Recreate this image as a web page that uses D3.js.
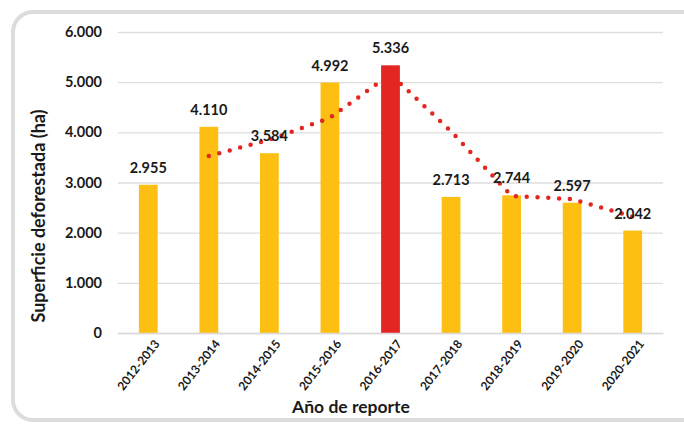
<!DOCTYPE html>
<html>
<head>
<meta charset="utf-8">
<script src="https://cdn.jsdelivr.net/npm/d3@7"></script>
<style>
  body { margin: 0; background: #fff; }
  text { font-family: Lato, "Open Sans", sans-serif; font-weight: 700; fill: #1a1a1a; }
</style>
</head>
<body>
<svg width="684" height="425"></svg>
<script>
// datos
const periodos = ["2012-2013", "2013-2014", "2014-2015", "2015-2016", "2016-2017", "2017-2018", "2018-2019", "2019-2020", "2020-2021"]
const superficie = [2955, 4110, 3584, 4992, 5336, 2713, 2744, 2597, 2042]
// tendencia punteada (empieza en 2013-2014)
const tendPeriodos = periodos.slice(1)
const tendencia = [3530, 3850, 4290, 5160, 4020, 2730, 2670, 2320]
const yTicks = [0, 1000, 2000, 3000, 4000, 5000, 6000]
const destacado = "2016-2017"

const svg = d3.select("svg")
const mLeft = 118, mRight = 663, mTop = 32, mBottom = 333

const loc = d3.formatLocale({ decimal: ",", thousands: ".", grouping: [3], currency: ["$", ""] })
const fmt = loc.format(",d")

// marco redondeado
svg.append("rect")
  .attr("x", 13).attr("y", 12).attr("width", 700).attr("height", 408)
  .attr("rx", 20)
  .style("fill", "none").style("stroke", "#dcdcdc").style("stroke-width", 4)

const x = d3.scaleBand().domain(periodos).range([mLeft, mRight]).paddingInner(0.69).paddingOuter(0.345)
const y = d3.scaleLinear().domain([0, 6000]).range([mBottom, mTop])

// grilla
const yAxis = d3.axisLeft(y).tickValues(yTicks).tickFormat(fmt).tickSize(-(mRight - mLeft)).tickPadding(16)
const gy = svg.append("g").attr("transform", `translate(${mLeft},0)`).call(yAxis)
gy.select(".domain").remove()
gy.selectAll("line").style("stroke", "#dedede").style("stroke-width", 1.3)
gy.selectAll("text").style("font-size", "14.5px")

// barras
svg.selectAll("rect.bar")
  .data(periodos)
  .enter().append("rect")
  .attr("class", "bar")
  .attr("x", d => x(d))
  .attr("width", x.bandwidth())
  .attr("y", (d, i) => y(superficie[i]))
  .attr("height", (d, i) => mBottom - y(superficie[i]))
  .style("fill", d => d == destacado ? "#e42622" : "#fcbf12")

// eje x
const xAxis = d3.axisBottom(x).tickSize(0).tickPadding(6)
const gx = svg.append("g").attr("transform", `translate(0,${mBottom})`).call(xAxis)
gx.select(".domain").style("stroke", "#d9d9d9").style("stroke-width", 1.5)
gx.selectAll("text")
  .style("font-size", "12px")
  .style("text-anchor", "end")
  .attr("dx", "-0.1em").attr("dy", "0.85em")
  .attr("transform", "rotate(-52)")

// linea punteada
const line = d3.line().x((d, i) => x(tendPeriodos[i]) + x.bandwidth() / 2).y(d => y(d))
svg.append("path")
  .datum(tendencia)
  .attr("d", line)
  .style("fill", "none")
  .style("stroke", "#e42622")
  .style("stroke-width", 4.5)
  .style("stroke-linecap", "round")
  .style("stroke-dasharray", "0 10.8")

// etiquetas de valor
svg.selectAll("text.val")
  .data(periodos)
  .enter().append("text")
  .attr("class", "val")
  .attr("x", d => x(d) + x.bandwidth() / 2)
  .attr("y", (d, i) => y(superficie[i]) - 12)
  .attr("text-anchor", "middle")
  .style("font-size", "14.5px")
  .text((d, i) => fmt(superficie[i]))

// titulos
svg.append("text")
  .attr("transform", "translate(45,216) rotate(-90)")
  .attr("text-anchor", "middle")
  .style("font-size", "18px")
  .text("Superficie deforestada (ha)")

svg.append("text")
  .attr("x", 351).attr("y", 413)
  .attr("text-anchor", "middle")
  .style("font-size", "17.5px")
  .text("Año de reporte")
</script>
</body>
</html>
